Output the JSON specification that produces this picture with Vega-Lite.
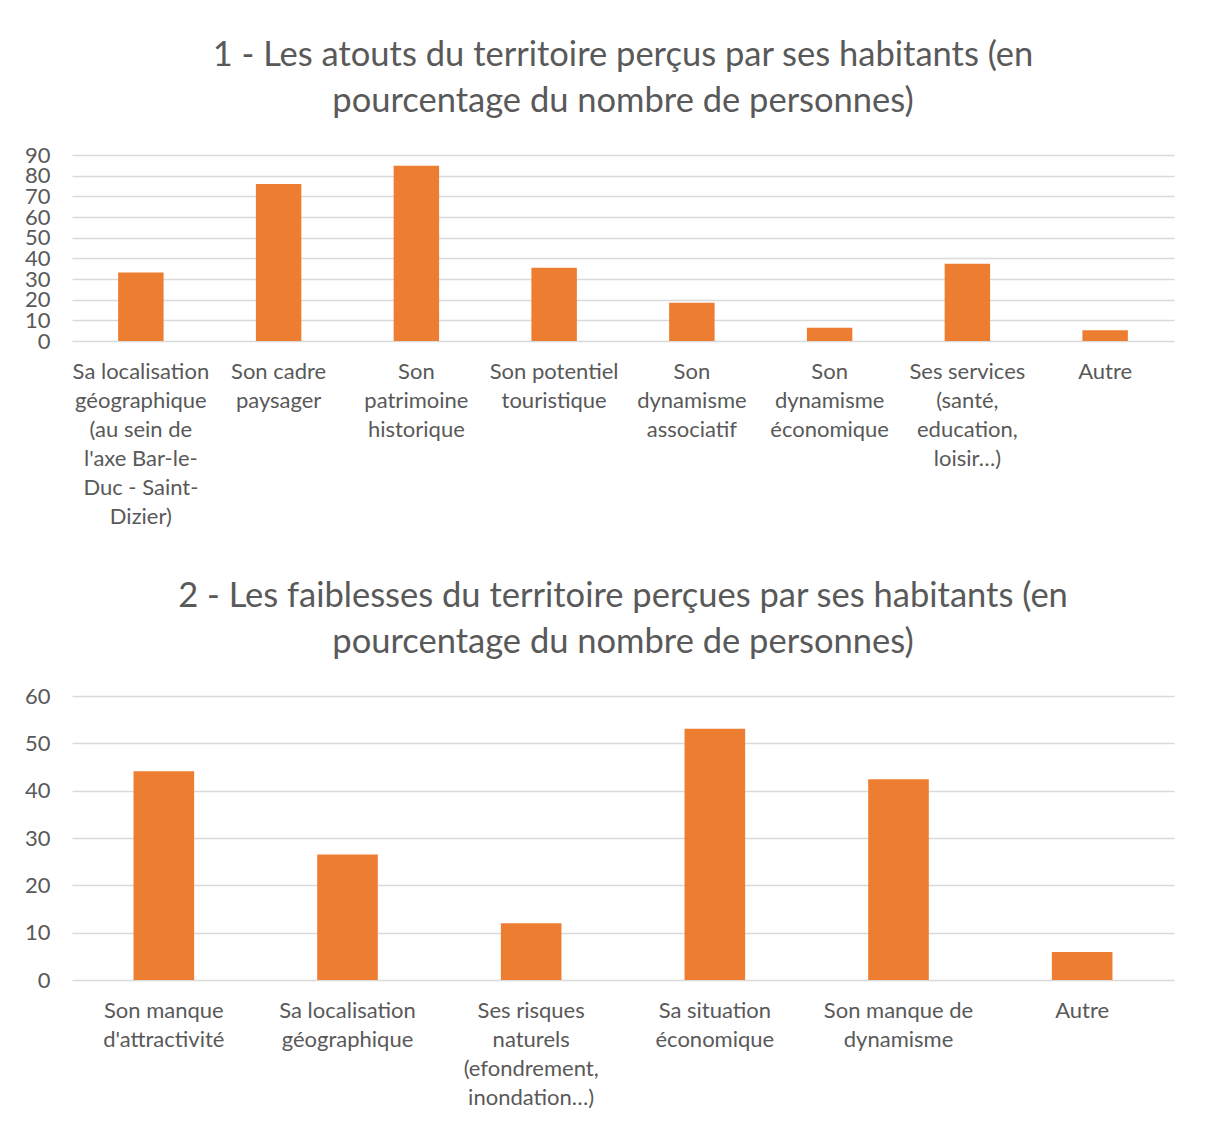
{
  "$schema": "https://vega.github.io/schema/vega-lite/v6.json",
  "padding": {"left": 24, "top": 37, "right": 40, "bottom": 5},
  "background": "white",
  "spacing": 51,
  "config": {
    "font": "Lato",
    "view": {"stroke": null},
    "axis": {
      "labelFont": "Lato",
      "labelFontSize": 22,
      "labelColor": "#595959",
      "gridColor": "#D9D9D9",
      "gridWidth": 1.5,
      "domain": false,
      "ticks": false
    },
    "title": {
      "font": "Lato",
      "fontSize": 34.5,
      "color": "#595959",
      "fontWeight": "normal",
      "lineHeight": 46,
      "anchor": "middle"
    },
    "bar": {"color": "#ED7D31"}
  },
  "vconcat": [
    {
      "title": {
        "text": ["1 - Les atouts du territoire perçus par ses habitants (en", "pourcentage du nombre de personnes)"],
        "offset": 25
      },
      "width": 1102,
      "height": 186,
      "data": {
        "values": [
          {"categorie": "Sa localisation|géographique|(au sein de|l'axe Bar-le-|Duc - Saint-|Dizier)", "valeur": 33.2},
          {"categorie": "Son cadre|paysager", "valeur": 76},
          {"categorie": "Son|patrimoine|historique", "valeur": 84.8},
          {"categorie": "Son potentiel|touristique", "valeur": 35.5},
          {"categorie": "Son|dynamisme|associatif", "valeur": 18.5},
          {"categorie": "Son|dynamisme|économique", "valeur": 6.4},
          {"categorie": "Ses services|(santé,|education,|loisir…)", "valeur": 37.4},
          {"categorie": "Autre", "valeur": 5.2}
        ]
      },
      "mark": {"type": "bar"},
      "encoding": {
        "x": {
          "field": "categorie",
          "type": "nominal",
          "sort": null,
          "scale": {"paddingInner": 0.67, "paddingOuter": 0.335},
          "axis": {
            "title": null,
            "labelAngle": 0,
            "labelExpr": "split(datum.label, '|')",
            "labelLineHeight": 29,
            "labelPadding": 20,
            "labelLimit": 300
          }
        },
        "y": {
          "field": "valeur",
          "type": "quantitative",
          "scale": {"domain": [0, 90]},
          "axis": {
            "title": null,
            "values": [0, 10, 20, 30, 40, 50, 60, 70, 80, 90],
            "labelOverlap": false,
            "labelPadding": 22,
            "grid": true
          }
        }
      }
    },
    {
      "title": {
        "text": ["2 - Les faiblesses du territoire perçues par ses habitants (en", "pourcentage du nombre de personnes)"],
        "offset": 25
      },
      "width": 1102,
      "height": 284,
      "data": {
        "values": [
          {"categorie": "Son manque|d'attractivité", "valeur": 44.1},
          {"categorie": "Sa localisation|géographique", "valeur": 26.5},
          {"categorie": "Ses risques|naturels|(efondrement,|inondation…)", "valeur": 12.0},
          {"categorie": "Sa situation|économique", "valeur": 53.1},
          {"categorie": "Son manque de|dynamisme", "valeur": 42.4},
          {"categorie": "Autre", "valeur": 5.9}
        ]
      },
      "mark": {"type": "bar"},
      "encoding": {
        "x": {
          "field": "categorie",
          "type": "nominal",
          "sort": null,
          "scale": {"paddingInner": 0.67, "paddingOuter": 0.335},
          "axis": {
            "title": null,
            "labelAngle": 0,
            "labelExpr": "split(datum.label, '|')",
            "labelLineHeight": 29,
            "labelPadding": 20,
            "labelLimit": 300
          }
        },
        "y": {
          "field": "valeur",
          "type": "quantitative",
          "scale": {"domain": [0, 60]},
          "axis": {
            "title": null,
            "values": [0, 10, 20, 30, 40, 50, 60],
            "labelOverlap": false,
            "labelPadding": 22,
            "grid": true
          }
        }
      }
    }
  ]
}
